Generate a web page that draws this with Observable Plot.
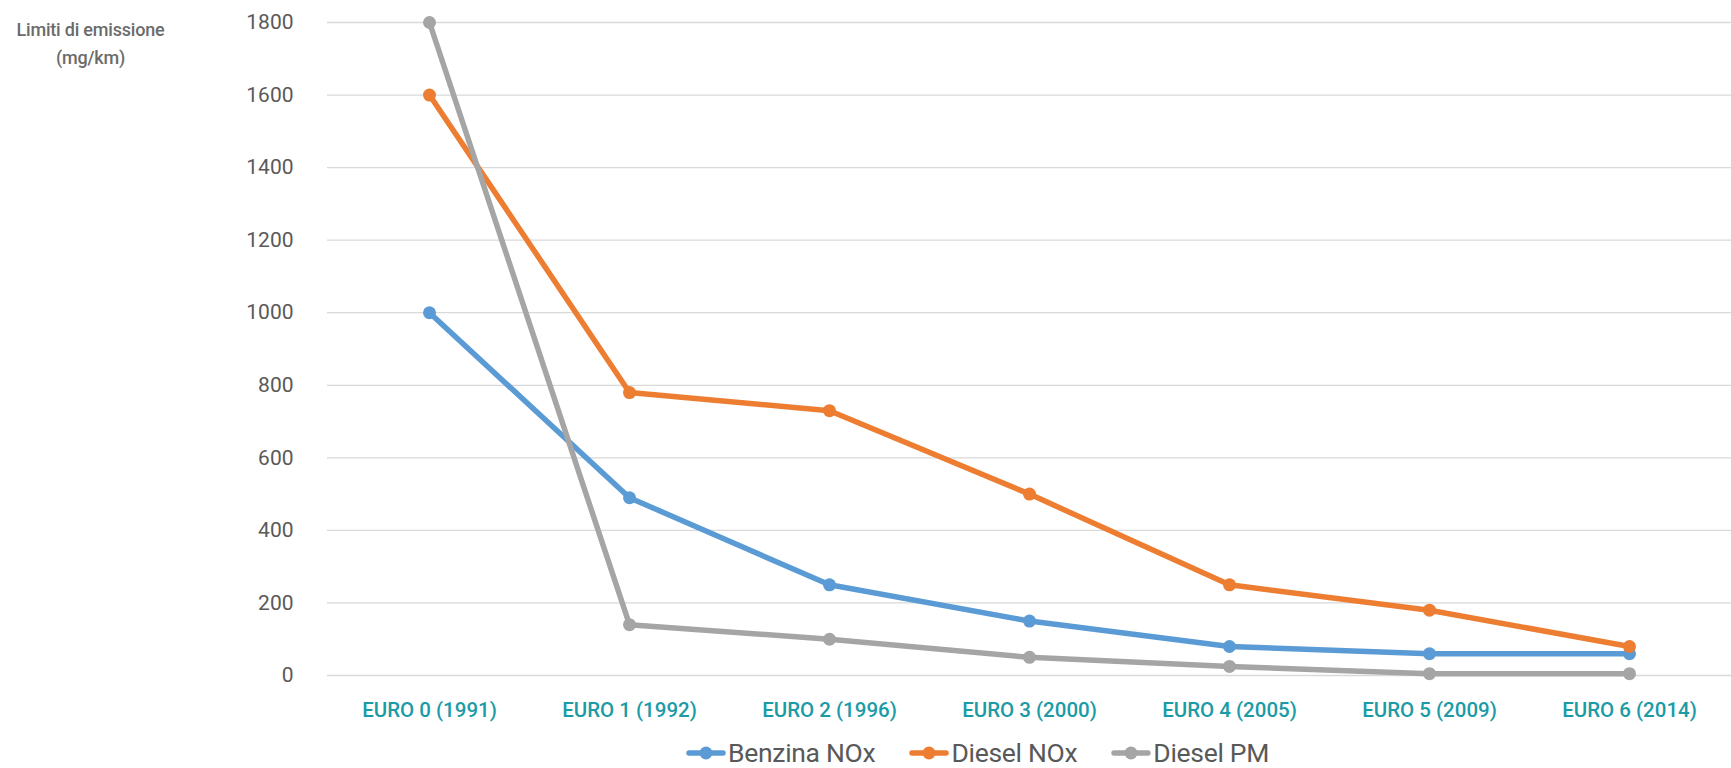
<!DOCTYPE html>
<html>
<head>
<meta charset="utf-8">
<script src="https://cdn.jsdelivr.net/npm/d3@7"></script>
<script src="https://cdn.jsdelivr.net/npm/@observablehq/plot@0.6"></script>
<style>
  html, body { margin: 0; padding: 0; background: #fff; }
  #wrap { position: relative; width: 1731px; height: 768px; font-family: Roboto, "Noto Sans", sans-serif; }
  #ytitle { position: absolute; left: 0; top: 16px; width: 181px; text-align: center; color: #6b6b6b; font-size: 18px; font-weight: 500; line-height: 28px; letter-spacing: -0.2px; }
  #legend { position: absolute; top: 737px; left: 686px; display: flex; align-items: center; font-size: 26.5px; color: #595959; letter-spacing: -0.3px; }
  .item { display: flex; align-items: center; margin-right: 34px; }
  .item svg { margin-right: 2px; }
</style>
</head>
<body>
<div id="wrap">
  <div id="chart"></div>
  <div id="ytitle">Limiti di emissione<br>(mg/km)</div>
  <div id="legend"></div>
</div>
<script>
const categories = ["EURO 0 (1991)", "EURO 1 (1992)", "EURO 2 (1996)", "EURO 3 (2000)", "EURO 4 (2005)", "EURO 5 (2009)", "EURO 6 (2014)"];
const seriesNames = ["Benzina NOx", "Diesel NOx", "Diesel PM"];
const benzinaNOx = [1000, 490, 250, 150, 80, 60, 60];
const dieselNOx = [1600, 780, 730, 500, 250, 180, 80];
const dieselPM = [1800, 140, 100, 50, 25, 5, 5];
const yTicks = [0, 200, 400, 600, 800, 1000, 1200, 1400, 1600, 1800];

const colors = ["#5b9bd5", "#ed7d31", "#a5a5a5"];
const seriesValues = [benzinaNOx, dieselNOx, dieselPM];

const data = [];
seriesNames.forEach((s, i) => {
  categories.forEach((c, j) => data.push({series: s, cat: c, value: seriesValues[i][j]}));
});

const marks = [
  Plot.ruleY(yTicks, {stroke: "#d9d9d9", strokeWidth: 1.3}),
  Plot.axisY(yTicks, {tickSize: 0, tickPadding: 34, fontSize: 21, fill: "#595959", label: null, tickFormat: d => String(d)}),
  Plot.axisX(categories, {tickSize: 0, tickPadding: 27, fontSize: 20.5, fontWeight: 500, fill: "#1a9ba6", label: null})
];
seriesNames.forEach((s, i) => {
  const d = data.filter(r => r.series === s);
  marks.push(Plot.line(d, {x: "cat", y: "value", stroke: colors[i], strokeWidth: 5.5, strokeLinejoin: "round", strokeLinecap: "round"}));
  marks.push(Plot.dot(d, {x: "cat", y: "value", r: 6.5, fill: colors[i], stroke: "none"}));
});

const chart = Plot.plot({
  width: 1731,
  height: 735,
  marginLeft: 327,
  marginRight: 0,
  marginTop: 22,
  marginBottom: 60,
  style: {fontFamily: "Roboto, 'Noto Sans', sans-serif", background: "#fff"},
  x: {type: "point", domain: categories, padding: 0.5},
  y: {domain: [0, 1800]},
  marks
});
document.getElementById("chart").appendChild(chart);

const legend = document.getElementById("legend");
seriesNames.forEach((s, i) => {
  const item = document.createElement("div");
  item.className = "item";
  item.innerHTML = `<svg width="40" height="14"><line x1="3" y1="7" x2="37" y2="7" stroke="${colors[i]}" stroke-width="5.5" stroke-linecap="round"/><circle cx="20" cy="7" r="6.5" fill="${colors[i]}"/></svg><span>${s}</span>`;
  legend.appendChild(item);
});
</script>
</body>
</html>
